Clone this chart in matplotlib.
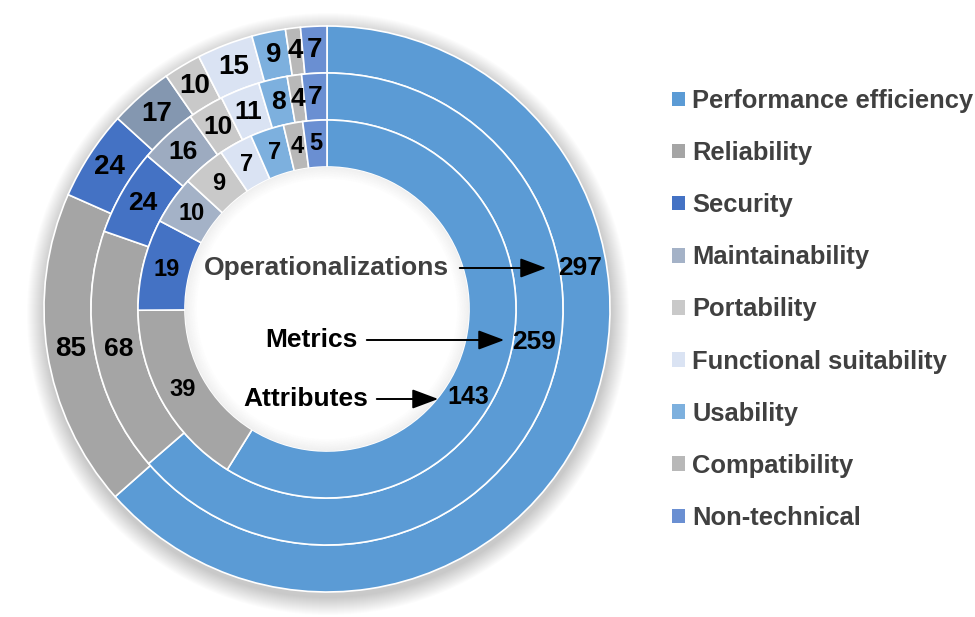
import numpy as np
import matplotlib.pyplot as plt
from matplotlib.patches import Patch, Circle, Wedge

plt.rcParams['font.family'] = ['Liberation Sans', 'DejaVu Sans']

# --- Data ---
categories = ['Performance efficiency', 'Reliability', 'Security', 'Maintainability',
              'Portability', 'Functional suitability', 'Usability', 'Compatibility',
              'Non-technical']
operationalizations = [297, 85, 24, 17, 10, 15, 9, 4, 7]
metrics = [259, 68, 24, 16, 10, 11, 8, 4, 7]
attributes = [143, 39, 19, 10, 9, 7, 7, 4, 5]

ring_names = ['Operationalizations', 'Metrics', 'Attributes']

# --- Colors (maintainability is shaded a bit per ring) ---
base_colors = ['#5B9BD5', '#A5A5A5', '#4472C4', '#8497B0', '#C9C9C9',
               '#DAE3F3', '#7DB0DE', '#B8B8B8', '#6A8FD2']
maint_colors = ['#8497B0', '#9DABC0', '#A4B2C7']
legend_colors = ['#5B9BD5', '#A5A5A5', '#4472C4', '#A4B2C7', '#C9C9C9',
                 '#DAE3F3', '#7DB0DE', '#B8B8B8', '#6A8FD2']

# --- Geometry (pixel coords, y up) ---
W, H = 975, 617
cx, cy = 327, 308
R_out = 283
ring_w = 47

fig = plt.figure(figsize=(W / 100, H / 100), dpi=100)
ax = fig.add_axes([0, 0, 1, 1])

# soft shadow behind the rings
for k in range(18):
    ax.add_patch(Circle((cx + 1, cy - 5), R_out + 18 - k, color='black',
                        alpha=0.01, lw=0, zorder=0))
ax.add_patch(Circle((cx, cy), R_out, color='white', lw=0, zorder=0.5))

rings = [operationalizations, metrics, attributes]
label_sizes = [20, 19, 17]
for i, vals in enumerate(rings):
    r = R_out - i * ring_w
    cols = list(base_colors)
    cols[3] = maint_colors[i]
    wedges, _ = ax.pie(vals, radius=r, center=(cx, cy), startangle=90,
                       counterclock=False, colors=cols,
                       wedgeprops=dict(width=ring_w, edgecolor='white', linewidth=1.2))
    for w in wedges:
        w.set_zorder(1)
    # value labels (first slice gets its own label below)
    rm = r - ring_w / 2
    for j, wdg in enumerate(wedges):
        if j == 0:
            continue
        th = np.deg2rad((wdg.theta1 + wdg.theta2) / 2)
        ax.text(cx + rm * np.cos(th), cy + rm * np.sin(th), str(vals[j]),
                ha='center', va='center', fontsize=label_sizes[i],
                fontweight='bold', color='black', zorder=3)

# subtle inner shadow at the edge of the hole
r_hole = R_out - 3 * ring_w
for k in range(10):
    ax.add_patch(Wedge((cx, cy), r_hole - k * 1.2, 0, 360, width=1.2,
                       color='black', alpha=0.06 * (1 - k / 10), lw=0, zorder=1.5))

# labels for the performance efficiency slices + arrows
pe_label = [(256, 9.2), (210, -9.0), (167, -32.0)]  # (radius, angle deg)
pe_sizes = [19, 19, 18]
arrow_tail = [(457, 617 - 268), (364, 617 - 340), (374, 617 - 399)]
arrow_head = [(549, 617 - 268), (507, 617 - 340), (441, 617 - 399)]
text_right = [(449, 617 - 268), (358, 617 - 340), (368, 617 - 399)]
name_colors = ['#404040', 'black', 'black']
for i, vals in enumerate(rings):
    rr, ang = pe_label[i]
    a = np.deg2rad(ang)
    ax.text(cx + rr * np.cos(a), cy + rr * np.sin(a), str(vals[0]),
            ha='center', va='center', fontsize=pe_sizes[i],
            fontweight='bold', color='black', zorder=3)
    ax.text(text_right[i][0], text_right[i][1], ring_names[i], ha='right',
            va='center', fontsize=19, fontweight='bold', color=name_colors[i],
            zorder=3)
    ax.annotate('', xy=arrow_head[i], xytext=arrow_tail[i],
                arrowprops=dict(arrowstyle='-|>,head_length=0.8,head_width=0.3',
                                color='black', lw=1.4, mutation_scale=20),
                zorder=3)

ax.set_xlim(0, W)
ax.set_ylim(0, H)
ax.set_aspect('equal')
ax.axis('off')

handles = [Patch(facecolor=c, edgecolor='none') for c in legend_colors]
leg = ax.legend(handles, categories, loc='upper left',
                bbox_to_anchor=(672 / W, (H - 89) / H), frameon=False,
                prop=dict(weight='bold', size=18.4),
                handlelength=0.5, handleheight=0.5, handletextpad=0.3,
                labelspacing=1.1, borderpad=0, borderaxespad=0)
for t in leg.get_texts():
    t.set_color('#404040')

plt.savefig('out.png', dpi=100)
